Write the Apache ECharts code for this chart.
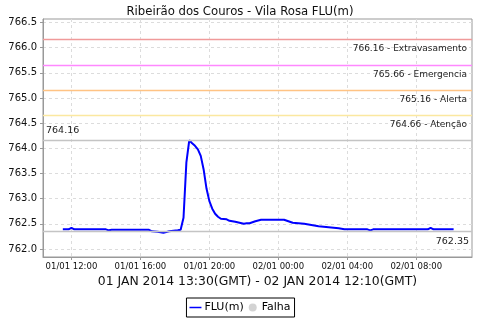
<!DOCTYPE html>
<html><head><meta charset="utf-8">
<script src="https://cdn.jsdelivr.net/npm/echarts@6/dist/echarts.min.js"></script>
<style>html,body{margin:0;padding:0;background:#fff}#c{width:480px;height:320px}</style>
</head><body><div id="c"></div>
<script>
var title = 'Ribeirão dos Couros - Vila Rosa FLU(m)';
var axisName = '01 JAN 2014 13:30(GMT) - 02 JAN 2014 12:10(GMT)';
var times = [
 '2014-01-01T11:30','2014-01-01T11:50','2014-01-01T12:00','2014-01-01T12:10','2014-01-01T14:00',
 '2014-01-01T14:10','2014-01-01T14:20','2014-01-01T16:30','2014-01-01T16:40','2014-01-01T17:00',
 '2014-01-01T17:20','2014-01-01T17:40','2014-01-01T18:10','2014-01-01T18:20','2014-01-01T18:30',
 '2014-01-01T18:40','2014-01-01T18:50','2014-01-01T19:00','2014-01-01T19:10','2014-01-01T19:20',
 '2014-01-01T19:30','2014-01-01T19:40','2014-01-01T19:50','2014-01-01T20:00','2014-01-01T20:10',
 '2014-01-01T20:20','2014-01-01T20:30','2014-01-01T20:40','2014-01-01T21:00','2014-01-01T21:10',
 '2014-01-01T21:30','2014-01-01T22:00','2014-01-01T22:10','2014-01-01T22:20','2014-01-01T22:40',
 '2014-01-01T23:00','2014-01-02T00:20','2014-01-02T00:50','2014-01-02T01:30','2014-01-02T02:20',
 '2014-01-02T03:30','2014-01-02T03:50','2014-01-02T05:10','2014-01-02T05:20','2014-01-02T05:30',
 '2014-01-02T08:40','2014-01-02T08:50','2014-01-02T09:00','2014-01-02T10:10'
];
var flu = [
 762.39,762.39,762.42,762.39,762.39,
 762.37,762.38,762.38,762.35,762.34,
 762.32,762.35,762.37,762.38,762.62,
 763.72,764.16,764.10,764.05,763.98,
 763.85,763.58,763.20,762.95,762.80,
 762.70,762.64,762.60,762.59,762.56,
 762.54,762.50,762.51,762.51,762.55,
 762.58,762.58,762.52,762.50,762.45,
 762.41,762.39,762.39,762.37,762.39,
 762.39,762.42,762.39,762.39
];
var thresholds = [766.16, 765.66, 765.16, 764.66];
var thresholdNames = ['Extravasamento', 'Emergencia', 'Alerta', 'Atenção'];
var thresholdColors = ['#f09a9a', '#ff88ff', '#ffc384', '#fbe8a0'];
var maxRef = 764.16, minRef = 762.35;
var xTicks = ['2014-01-01T12:00','2014-01-01T16:00','2014-01-01T20:00','2014-01-02T00:00','2014-01-02T04:00','2014-01-02T08:00'];
var yTicks = [762.0,762.5,763.0,763.5,764.0,764.5,765.0,765.5,766.0,766.5];

function t(s){ return new Date(s).getTime(); }
function p2(n){ return (n<10?'0':'')+n; }
var data = times.map(function(s,i){ return [t(s), flu[i]]; });

var markData = thresholds.map(function(v,i){
  return {yAxis:v, lineStyle:{color:thresholdColors[i]},
    label:{formatter: v.toFixed(2)+' - '+thresholdNames[i], position:'insideEndBottom'}};
});
markData.push({yAxis:maxRef, lineStyle:{color:'#c4c4c4'}, label:{formatter:maxRef.toFixed(2), position:'insideStartTop', fontSize:9.5, distance:[3,5]}});
markData.push({yAxis:minRef, lineStyle:{color:'#c4c4c4'}, label:{formatter:minRef.toFixed(2), position:'insideEndBottom', fontSize:9.5, distance:[3,5]}});

var chart = echarts.init(document.getElementById('c'), null, {renderer:'canvas'});
chart.setOption({
  animation:false,
  textStyle:{fontFamily:'DejaVu Sans'},
  title:{text:title, left:'center', top:1, textStyle:{fontSize:11.7, fontWeight:'normal', color:'#111', fontFamily:'DejaVu Sans'}},
  grid:{left:43, right:8, top:19, bottom:63, show:true, borderColor:'#999', borderWidth:1, backgroundColor:'transparent'},
  legend:{bottom:3, left:'center', itemGap:5, itemWidth:12, itemHeight:8,
    borderColor:'#000', borderWidth:1, padding:[4,4,4,3],
    textStyle:{fontSize:11, color:'#000', padding:[0,0,0,-2]},
    data:[{name:'FLU(m)', icon:'path://M0,0H16V2H0Z'}, {name:'Falha', icon:'circle'}]},
  xAxis:{type:'value', min:t('2014-01-01T10:21'), max:t('2014-01-02T11:14'),
    name:axisName, nameLocation:'middle', nameGap:18,
    nameTextStyle:{fontSize:12.4, color:'#111'},
    axisLine:{lineStyle:{color:'#999'}},
    axisTick:{customValues:xTicks.map(t), length:3, lineStyle:{color:'#999'}},
    axisLabel:{customValues:xTicks.map(t), fontSize:8.5, color:'#111', margin:5,
      formatter:function(v){ var d=new Date(v); return p2(d.getDate())+'/'+p2(d.getMonth()+1)+' '+p2(d.getHours())+':'+p2(d.getMinutes()); }},
    splitLine:{show:true, lineStyle:{color:'#dcdcdc', type:[3,3]}}},
  yAxis:{type:'value', min:761.84, max:766.57,
    axisLine:{show:true, lineStyle:{color:'#999'}},
    axisTick:{show:true, customValues:yTicks, length:3, lineStyle:{color:'#999'}},
    axisLabel:{customValues:yTicks, fontSize:10, color:'#111', margin:6, formatter:function(v){return v.toFixed(1);}},
    splitLine:{show:true, lineStyle:{color:'#dcdcdc', type:[3,3]}}},
  series:[
    {name:'FLU(m)', type:'line', data:data, showSymbol:false, symbol:'none', color:'#0000ff',
     lineStyle:{width:2, color:'#0000ff'},
     markLine:{silent:true, symbol:'none', lineStyle:{type:'solid', width:1.3},
       label:{fontSize:9, color:'#222'}, data:markData}},
    {name:'Falha', type:'scatter', data:[], color:'#c8c8c8'}
  ]
});
</script></body></html>
